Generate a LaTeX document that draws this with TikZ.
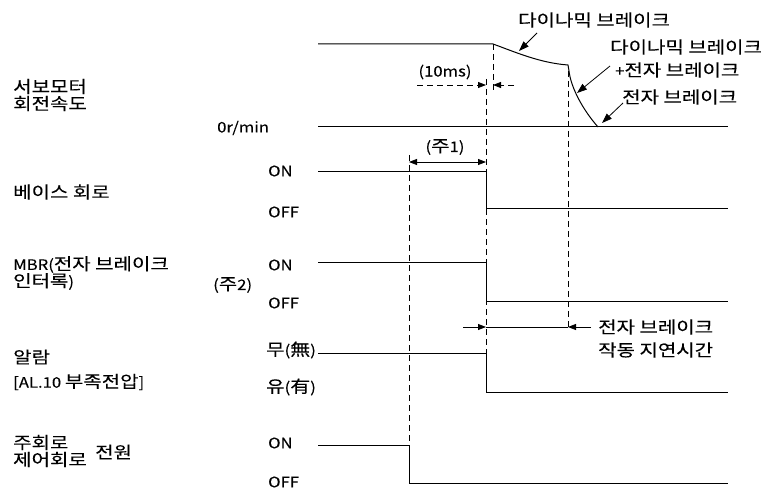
\documentclass[tikz,border=0pt]{standalone}
\usepackage{fontspec}
\setmainfont{Noto Sans CJK KR}[FakeStretch=1.15,FakeBold=0.12]
\newfontfamily\korfont{Noto Sans CJK KR}[FakeStretch=1.2,FakeBold=0.15,Scale=1.15]
\newcommand\kor[1]{{\korfont #1}}
\usetikzlibrary{arrows.meta}

\begin{document}
\begin{tikzpicture}[x=1bp,y=-1bp,
  lbl/.style={anchor=west,inner sep=0pt,align=left,font=\fontsize{14.5bp}{17bp}\selectfont},
  mid/.style={lbl,anchor=center},
  wave/.style={line width=1bp},
  guide/.style={line width=0.8bp,dash pattern=on 6bp off 4bp},
  dim/.style={line width=0.8bp,-{Triangle[length=8bp,width=6bp]}},
  lead/.style={line width=0.8bp,-{Triangle[length=10bp,width=7bp]}}]
  \useasboundingbox (0,0) rectangle (765,490);
  % 기준점
  \coordinate (S0) at (493,44);
  \coordinate (S1) at (568,65);
  \coordinate (S2) at (569,71);
  \coordinate (S3) at (598,127);
  % 서보모터 회전속도
  \draw[wave] (318,44) -- (S0) .. controls (515,52) and (540,63) .. (S1) -- (S2)
    .. controls (571,88) and (583,110) .. (S3);
  \draw[wave] (318,127) -- (728,127);
  % 베이스 회로, MBR, 알람, 전원
  \draw[wave] (318,172) -- (486,172) -- (486,209) -- (728,209);
  \draw[wave] (318,263) -- (486,263) -- (486,301) -- (728,301);
  \draw[wave] (318,353) -- (486,353) -- (486,392) -- (728,392);
  \draw[wave] (318,445) -- (409,445) -- (409,483) -- (728,483);
  % 보조선（점선）
  \draw[guide] (493,44) -- (493,92);
  \draw[guide] (486,79) -- (486,353);
  \draw[guide] (568,71) -- (568,330);
  \draw[guide] (409,155) -- (409,445);
  % 시간 표시
  \draw[guide,dim] (417,85) -- (486,85);
  \draw[guide,dim] (514,85) -- (493,85);
  \draw[line width=0.8bp,{Triangle[length=8bp,width=6bp]}-{Triangle[length=8bp,width=6bp]}] (409,162) -- (486,162);
  \draw[dim] (463,327) -- (486,327);
  \draw[line width=0.8bp] (486,327) -- (568,327);
  \draw[dim] (591,327) -- (568,327);
  % 왼쪽 신호 이름
  \node[lbl] (srv) at (13,95) {\kor{서보모터}\\\kor{회전속도}};
  \node[lbl] (zero) at (217,128) {0r/min};
  \node[lbl] (base) at (13,192) {\kor{베이스 회로}};
  \node[lbl] (baseon) at (268,171) {ON};
  \node[lbl] (baseoff) at (268,212) {OFF};
  \node[lbl] (mbr) at (13,273) {MBR(\kor{전자 브레이크}\\\kor{인터록})};
  \node[lbl] (note2) at (213,285) {(\kor{주}2)};
  \node[lbl] (mbron) at (268,265) {ON};
  \node[lbl] (mbroff) at (268,303) {OFF};
  \node[lbl] (alm) at (13,357) {\kor{알람}};
  \node[lbl] (almcode) at (13,382) {[AL.10 \kor{부족전압}]};
  \node[lbl] (almoff) at (266,350) {\kor{무}(\kor{無})};
  \node[lbl] (almon) at (266,387) {\kor{유}(\kor{有})};
  \node[lbl] (pwr) at (13,451) {\kor{주회로}\\\kor{제어회로}};
  \node[lbl] (pwrtag) at (95,452) {\kor{전원}};
  \node[lbl] (pwron) at (268,443) {ON};
  \node[lbl] (pwroff) at (268,482) {OFF};
  % 오른쪽 설명
  \node[lbl] (dbk) at (518,20) {\kor{다이나믹 브레이크}};
  \node[lbl] (dbk2) at (610,47) {\kor{다이나믹 브레이크}};
  \node[lbl] (dbkeb) at (615,70) {+\kor{전자 브레이크}};
  \node[lbl] (ebk) at (622,97) {\kor{전자 브레이크}};
  \node[lbl] (delay) at (598,327) {\kor{전자 브레이크}};
  \node[lbl] (delay2) at (598,350) {\kor{작동 지연시간}};
  \node[mid] (t10) at (445,72) {(10ms)};
  \node[mid] (note1) at (445,147) {(\kor{주}1)};
  % 인출선
  \coordinate (L1) at (537,33);
  \coordinate (P1) at (519,51);
  \coordinate (L2) at (610,66);
  \coordinate (P2) at (577,93);
  \coordinate (L3) at (623,103);
  \coordinate (P3) at (602,123);
  \draw[lead] (L1) -- (P1);
  \draw[lead] (L2) -- (P2);
  \draw[lead] (L3) -- (P3);
\end{tikzpicture}
\end{document}
